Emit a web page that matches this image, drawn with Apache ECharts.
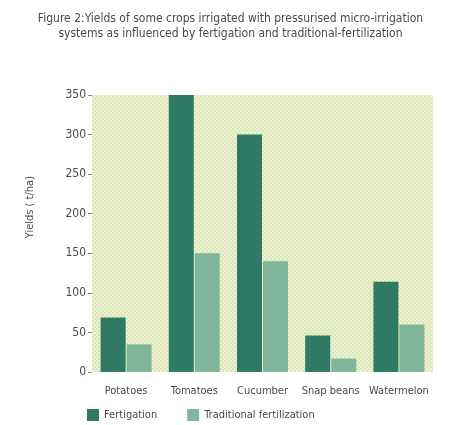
<!DOCTYPE html>
<html>
<head>
<meta charset="utf-8">
<script src="https://cdn.jsdelivr.net/npm/echarts@6/dist/echarts.min.js"></script>
<style>
  html, body { margin: 0; padding: 0; background: #fff; }
  #chart { width: 461px; height: 425px; }
</style>
</head>
<body>
<div id="chart"></div>
<script>
// crops and yields (t/ha)
var crops = ['Potatoes', 'Tomatoes', 'Cucumber', 'Snap beans', 'Watermelon']
var fertigation = [69, 350, 300, 46, 114]
var traditional = [35, 150, 140, 17, 60]
var yTicks = [0, 50, 100, 150, 200, 250, 300, 350]

var font = '"Liberation Sans Narrow", "DejaVu Sans Condensed", sans-serif'
var textColor = '#4a4a4a'

// checker pattern for the plot background
var pat = document.createElement('canvas')
pat.width = 4
pat.height = 4
var ctx = pat.getContext('2d')
ctx.fillStyle = '#f6f1c4'
ctx.fillRect(0, 0, 4, 4)
ctx.fillStyle = '#d3e6c8'
ctx.fillRect(0, 0, 2, 2)
ctx.fillRect(2, 2, 2, 2)

var myChart = echarts.init(document.getElementById('chart'))
var option = {
  animation: false,
  title: {
    text: 'Figure 2:Yields of some crops irrigated with pressurised micro-irrigation\nsystems as influenced by fertigation and traditional-fertilization',
    left: 'center',
    top: 6,
    textStyle: {
      fontFamily: font,
      fontSize: 12,
      fontWeight: 'normal',
      color: textColor,
      lineHeight: 15
    }
  },
  legend: {
    data: ['Fertigation', 'Traditional fertilization'],
    left: 82,
    top: 404,
    icon: 'rect',
    itemWidth: 12,
    itemHeight: 12,
    itemGap: 30,
    textStyle: { fontFamily: font, fontSize: 11, color: textColor }
  },
  grid: {
    left: 92,
    right: 28,
    top: 95,
    bottom: 53,
    show: true,
    backgroundColor: { image: pat, repeat: 'repeat' },
    borderWidth: 0
  },
  xAxis: {
    type: 'category',
    data: crops,
    axisLine: { show: false },
    axisTick: { show: false },
    axisLabel: { interval: 0, margin: 14, fontFamily: font, fontSize: 11, color: textColor }
  },
  yAxis: {
    type: 'value',
    min: yTicks[0],
    max: yTicks[yTicks.length - 1],
    interval: 50,
    axisLine: { show: false },
    axisTick: { show: true, length: 4, lineStyle: { color: '#888' } },
    splitLine: { show: false },
    axisLabel: { margin: 6, fontFamily: font, fontSize: 12, color: textColor }
  },
  graphic: [{
    type: 'text',
    left: 25,
    top: 176,
    rotation: Math.PI / 2,
    style: {
      text: 'Yields ( t/ha)',
      fontFamily: font,
      fontSize: 11,
      fill: textColor
    }
  }],
  series: [
    {
      name: 'Fertigation',
      type: 'bar',
      barWidth: 25,
      barGap: '4%',
      itemStyle: { color: '#2f7a65' },
      data: fertigation
    },
    {
      name: 'Traditional fertilization',
      type: 'bar',
      barWidth: 25,
      itemStyle: { color: '#80b79b' },
      data: traditional
    }
  ]
}
myChart.setOption(option)
</script>
</body>
</html>
